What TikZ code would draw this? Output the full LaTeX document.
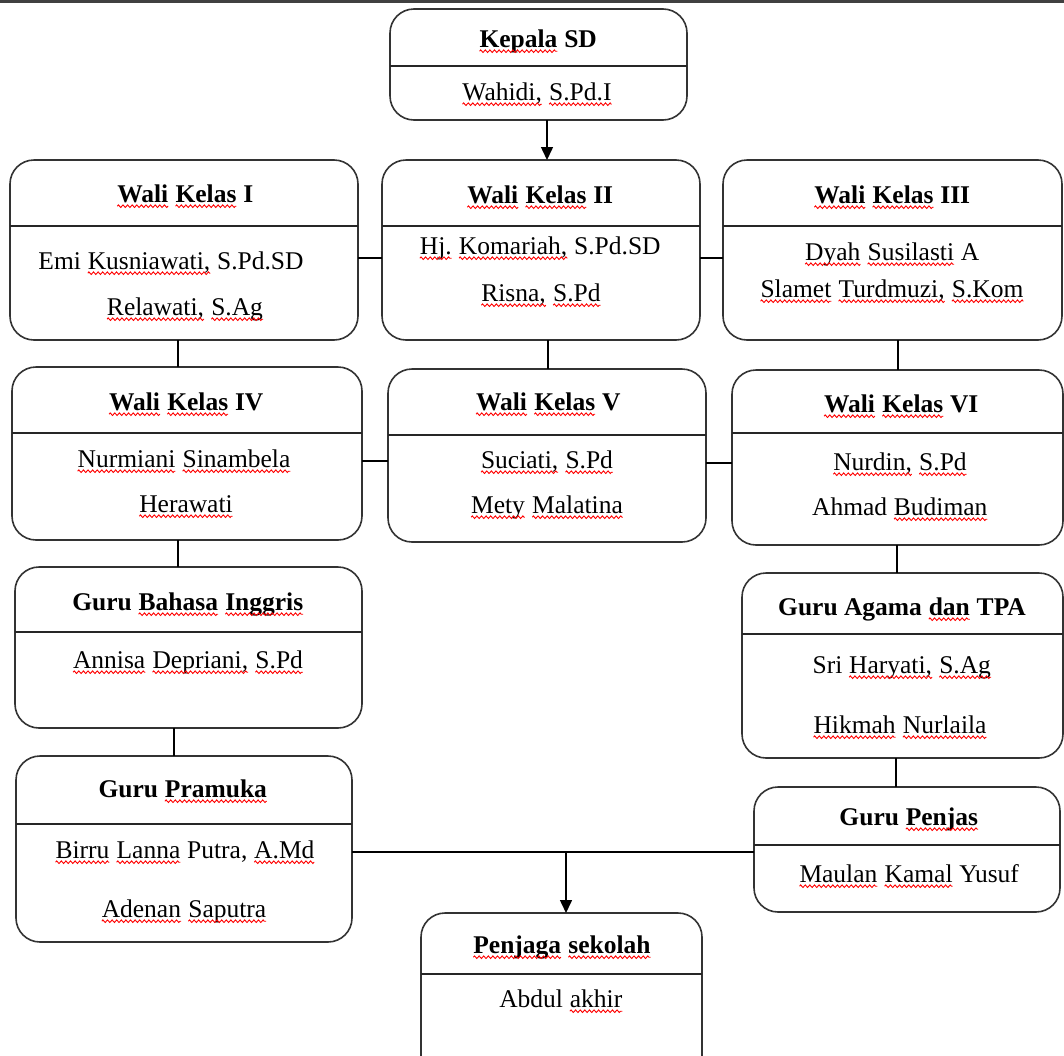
\documentclass[tikz,border=0pt]{standalone}
\usepackage{fontspec}
\setmainfont{Liberation Serif}
\usetikzlibrary{arrows.meta,decorations.pathmorphing}
\newcommand\sq[1]{\tikz[baseline=(sqw.base)]{%
  \node[anchor=base west, inner sep=0pt, outer sep=0pt, draw=none] (sqw) at (0pt,0pt) {#1};
  \draw[red, line width=0.9pt, decorate, decoration={zigzag, amplitude=1.3pt, segment length=4.6pt}]
    ([yshift=-4.2pt]sqw.base west) -- ([yshift=-4.2pt]sqw.base east);}}
\newcommand\orgbox[6]{%
  \node[obox, minimum width={(#4-#2)*1pt}, minimum height={(#5-#3)*1pt}] (#1) at ({(#2+#4)/2},{(#3+#5)/2}) {};
  \draw[divl] (#1.west |- 0,#6) -- (#1.east |- 0,#6);}
\begin{document}
\begin{tikzpicture}[x=1pt,y=-1pt,
  obox/.style={draw=black!80, line width=1.6pt, rounded corners=24pt, inner sep=0pt, outer sep=0pt},
  divl/.style={draw=black!85, line width=1.5pt},
  conn/.style={draw=black, line width=1.5pt},
  arr/.style={conn, -{Triangle[length=13pt,width=12pt]}},
  ttl/.style={font=\fontsize{25.5}{30}\selectfont\bfseries, anchor=base, inner sep=0pt},
  nm/.style={font=\fontsize{25.5}{30}\selectfont, anchor=base, inner sep=0pt}]
\useasboundingbox (0,0) rectangle (1064,1055);
\clip (0,0) rectangle (1064,1055);
\fill[black!75] (0,0) rectangle (1064,2.5);

% boxes
\orgbox{k}{390}{9}{687}{120}{66}
\orgbox{w1}{10}{160}{358}{340}{226}
\orgbox{w2}{382}{160}{700}{340}{226}
\orgbox{w3}{723}{160}{1062}{340}{226}
\orgbox{w4}{12}{367}{362}{540}{433}
\orgbox{w5}{388}{369}{706}{542}{435}
\orgbox{w6}{732}{370}{1063}{545}{433}
\orgbox{bi}{15}{567}{362}{728}{632}
\orgbox{ag}{742}{573}{1063}{758}{634}
\orgbox{pr}{16}{756}{352}{942}{824}
\orgbox{pj}{754}{787}{1060}{912}{845}
\orgbox{ps}{421}{913}{702}{1085}{974}

% texts
\node[ttl] (k-t) at (538,47) {\sq{Kepala} SD};
\node[nm] (k-a) at (537,100) {\sq{Wahidi,} \sq{S.Pd.I}};

\node[ttl] (w1-t) at (185,202) {\sq{Wali} \sq{Kelas} I};
\node[nm] (w1-a) at (171,269) {Emi \sq{Kusniawati,} S.Pd.SD};
\node[nm] (w1-b) at (185,315) {\sq{Relawati,} \sq{S.Ag}};

\node[ttl] (w2-t) at (540,203) {\sq{Wali} \sq{Kelas} II};
\node[nm] (w2-a) at (540,254) {\sq{Hj.} \sq{Komariah,} S.Pd.SD};
\node[nm] (w2-b) at (541,301) {\sq{Risna,} \sq{S.Pd}};

\node[ttl] (w3-t) at (892,203) {\sq{Wali} \sq{Kelas} III};
\node[nm] (w3-a) at (892,260) {\sq{Dyah} \sq{Susilasti} A};
\node[nm] (w3-b) at (892,297) {\sq{Slamet} \sq{Turdmuzi,} \sq{S.Kom}};

\node[ttl] (w4-t) at (186,410) {\sq{Wali} \sq{Kelas} IV};
\node[nm] (w4-a) at (184,467) {\sq{Nurmiani} \sq{Sinambela}};
\node[nm] (w4-b) at (186,512) {\sq{Herawati}};

\node[ttl] (w5-t) at (548,410) {\sq{Wali} \sq{Kelas} V};
\node[nm] (w5-a) at (547,468) {\sq{Suciati,} \sq{S.Pd}};
\node[nm] (w5-b) at (547,513) {\sq{Mety} \sq{Malatina}};

\node[ttl] (w6-t) at (901,412) {\sq{Wali} \sq{Kelas} VI};
\node[nm] (w6-a) at (900,470) {\sq{Nurdin,} \sq{S.Pd}};
\node[nm] (w6-b) at (900,515) {Ahmad \sq{Budiman}};

\node[ttl] (bi-t) at (188,610) {Guru \sq{Bahasa} \sq{Inggris}};
\node[nm] (bi-a) at (188,668) {\sq{Annisa} \sq{Depriani,} \sq{S.Pd}};

\node[ttl] (ag-t) at (902,615) {Guru Agama \sq{dan} TPA};
\node[nm] (ag-a) at (902,673) {Sri \sq{Haryati,} \sq{S.Ag}};
\node[nm] (ag-b) at (900,733) {\sq{Hikmah} \sq{Nurlaila}};

\node[ttl] (pr-t) at (183,797) {Guru \sq{Pramuka}};
\node[nm] (pr-a) at (185,858) {\sq{Birru} \sq{Lanna} Putra, \sq{A.Md}};
\node[nm] (pr-b) at (184,917) {\sq{Adenan} \sq{Saputra}};

\node[ttl] (pj-t) at (909,825) {Guru \sq{Penjas}};
\node[nm] (pj-a) at (909,882) {\sq{Maulan} \sq{Kamal} Yusuf};

\node[ttl] (ps-t) at (562,953) {\sq{Penjaga} \sq{sekolah}};
\node[nm] (ps-a) at (561,1007) {Abdul \sq{akhir}};

% connectors
\draw[arr] (k.south -| 547,0) -- (w2.north -| 547,0);
\draw[conn] (w1.east |- 0,258) -- (w2.west |- 0,258);
\draw[conn] (w2.east |- 0,258) -- (w3.west |- 0,258);
\draw[conn] (w1.south -| 178,0) -- (w4.north -| 178,0);
\draw[conn] (w2.south -| 548,0) -- (w5.north -| 548,0);
\draw[conn] (w3.south -| 898,0) -- (w6.north -| 898,0);
\draw[conn] (w4.east |- 0,461) -- (w5.west |- 0,461);
\draw[conn] (w5.east |- 0,463) -- (w6.west |- 0,463);
\draw[conn] (w4.south -| 178,0) -- (bi.north -| 178,0);
\draw[conn] (bi.south -| 174,0) -- (pr.north -| 174,0);
\draw[conn] (w6.south -| 897,0) -- (ag.north -| 897,0);
\draw[conn] (ag.south -| 896,0) -- (pj.north -| 896,0);
\draw[conn] (pr.east |- 0,852) -- (pj.west |- 0,852);
\coordinate (jn) at (566,852);
\draw[arr] (jn) -- (ps.north -| jn);
\end{tikzpicture}
\end{document}
